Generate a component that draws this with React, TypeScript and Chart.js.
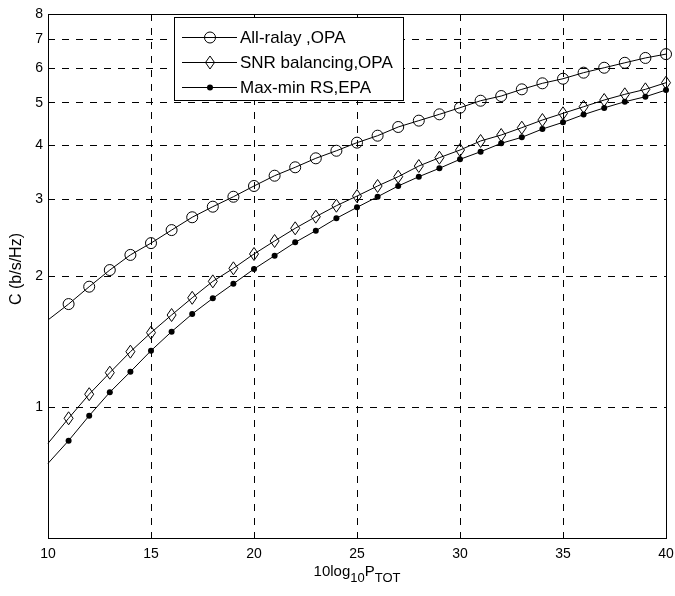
import React, { useEffect, useRef } from "react";
import { Chart, registerables } from "chart.js";

Chart.register(...registerables);

const xValues = [10, 11, 12, 13, 14, 15, 16, 17, 18, 19, 20, 21, 22, 23, 24, 25, 26, 27, 28, 29, 30, 31, 32, 33, 34, 35, 36, 37, 38, 39, 40];
const allRelay = [1.585, 1.724, 1.89, 2.064, 2.236, 2.38, 2.55, 2.729, 2.886, 3.042, 3.22, 3.4, 3.555, 3.728, 3.88, 4.05, 4.202, 4.4, 4.55, 4.705, 4.872, 5.056, 5.183, 5.37, 5.544, 5.68, 5.865, 6.02, 6.18, 6.34, 6.47];
const snrBalancing = [0.825, 0.942, 1.07, 1.199, 1.34, 1.482, 1.627, 1.782, 1.944, 2.083, 2.247, 2.407, 2.574, 2.737, 2.901, 3.053, 3.22, 3.382, 3.579, 3.74, 3.895, 4.086, 4.217, 4.384, 4.565, 4.73, 4.898, 5.075, 5.23, 5.37, 5.562];
const maxMinRS = [0.742, 0.837, 0.955, 1.081, 1.205, 1.347, 1.49, 1.636, 1.777, 1.92, 2.075, 2.227, 2.39, 2.542, 2.714, 2.876, 3.042, 3.22, 3.382, 3.536, 3.708, 3.86, 4.036, 4.166, 4.353, 4.51, 4.698, 4.868, 5.029, 5.164, 5.35];
const seriesLabels = ["All-ralay ,OPA", "SNR balancing,OPA", "Max-min RS,EPA"];
const xTicks = [10, 15, 20, 25, 30, 35, 40];
const yTicks = [1, 2, 3, 4, 5, 6, 7, 8];
const yTitle = "C (b/s/Hz)";
const xTitleParts = ["10log", "10", "P", "TOT"];

const FONT = "'Liberation Sans', Arial, Helvetica, sans-serif";

function diamondPath(ctx: CanvasRenderingContext2D, x: number, y: number) {
  ctx.beginPath();
  ctx.moveTo(x, y - 6.5);
  ctx.lineTo(x + 4.5, y);
  ctx.lineTo(x, y + 6.5);
  ctx.lineTo(x - 4.5, y);
  ctx.closePath();
  ctx.stroke();
}

export default function App() {
  const ref = useRef<HTMLCanvasElement>(null);
  useEffect(() => {
    const canvas = ref.current!;
    const toPts = (arr: number[]) => xValues.map((x, i) => ({ x, y: arr[i] }));

    const framePlugin = {
      id: "frame",
      afterDatasetsDraw(chart: any) {
        const { ctx, chartArea: a } = chart;
        ctx.save();
        ctx.strokeStyle = "#000";
        ctx.lineWidth = 1;
        ctx.setLineDash([]);
        // diamonds of the second series, at the library's point positions
        const meta = chart.getDatasetMeta(1);
        meta.data.forEach((p: any, i: number) => {
          if (i === 0) return;
          diamondPath(ctx, p.x, p.y);
        });
        ctx.strokeRect(Math.round(a.left) + 0.5, Math.round(a.top) + 0.5, Math.round(a.right - a.left), Math.round(a.bottom - a.top));
        ctx.restore();
      },
      afterDraw(chart: any) {
        const { ctx, chartArea: a } = chart;
        ctx.save();
        // legend
        const lx = 174.5, ly = 17.5, lw = 229, lh = 83;
        ctx.fillStyle = "#fff";
        ctx.fillRect(lx, ly, lw, lh);
        ctx.strokeStyle = "#000";
        ctx.lineWidth = 1;
        ctx.strokeRect(lx, ly, lw, lh);
        const rows = [37, 62, 87];
        ctx.font = `17px ${FONT}`;
        ctx.textBaseline = "middle";
        ctx.textAlign = "left";
        ctx.fillStyle = "#000";
        rows.forEach((ry, i) => {
          ctx.beginPath();
          ctx.moveTo(182, ry + 0.5);
          ctx.lineTo(237, ry + 0.5);
          ctx.stroke();
          const mx = 210;
          if (i === 0) {
            ctx.beginPath();
            ctx.arc(mx, ry + 0.5, 5.5, 0, Math.PI * 2);
            ctx.stroke();
          } else if (i === 1) {
            diamondPath(ctx, mx, ry + 0.5);
          } else {
            ctx.beginPath();
            ctx.arc(mx, ry + 0.5, 3, 0, Math.PI * 2);
            ctx.fill();
          }
          ctx.fillText(seriesLabels[i], 240, ry + 1);
        });
        // y title
        ctx.save();
        ctx.translate(17, 269);
        ctx.rotate(-Math.PI / 2);
        ctx.textAlign = "center";
        ctx.textBaseline = "middle";
        ctx.font = `16px ${FONT}`;
        ctx.fillText(yTitle, 0, 0);
        ctx.restore();
        // x title with subscripts
        const mainFont = `15px ${FONT}`;
        const subFont = `13px ${FONT}`;
        const fonts = [mainFont, subFont, mainFont, subFont];
        const offs = [0, 6, 0, 6];
        let total = 0;
        const widths = xTitleParts.map((t, i) => {
          ctx.font = fonts[i];
          const w = ctx.measureText(t).width;
          total += w;
          return w;
        });
        let x = (a.left + a.right) / 2 - total / 2;
        ctx.textAlign = "left";
        ctx.textBaseline = "alphabetic";
        xTitleParts.forEach((t, i) => {
          ctx.font = fonts[i];
          ctx.fillText(t, x, 576 + offs[i]);
          x += widths[i];
        });
        ctx.restore();
      },
    };

    const chart = new Chart(canvas, {
      type: "line",
      data: {
        datasets: [
          {
            label: seriesLabels[0],
            data: toPts(allRelay),
            borderColor: "#000",
            borderWidth: 1,
            pointStyle: "circle",
            pointRadius: (c: any) => (c.dataIndex === 0 ? 0 : 5.5),
            pointBorderColor: "#000",
            pointBackgroundColor: "rgba(0,0,0,0)",
            pointBorderWidth: 1,
            tension: 0,
            clip: false,
          },
          {
            label: seriesLabels[1],
            data: toPts(snrBalancing),
            borderColor: "#000",
            borderWidth: 1,
            pointRadius: 0,
            tension: 0,
            clip: false,
          },
          {
            label: seriesLabels[2],
            data: toPts(maxMinRS),
            borderColor: "#000",
            borderWidth: 1,
            pointStyle: "circle",
            pointRadius: (c: any) => (c.dataIndex === 0 ? 0 : 3),
            pointBorderColor: "#000",
            pointBackgroundColor: "#000",
            pointBorderWidth: 0,
            tension: 0,
            clip: false,
          },
        ] as any,
      },
      options: {
        responsive: false,
        animation: false,
        events: [],
        layout: { padding: { top: 14, right: 9, left: 0, bottom: 0 } },
        plugins: { legend: { display: false }, tooltip: { enabled: false } },
        scales: {
          x: {
            type: "linear",
            min: 10,
            max: 40,
            afterBuildTicks: (s: any) => {
              s.ticks = xTicks.map((v) => ({ value: v }));
            },
            afterFit: (s: any) => {
              s.height = 58;
              s.paddingLeft = 0;
              s.paddingRight = 0;
            },
            grid: { color: "#000", lineWidth: 1, drawTicks: false },
            border: { display: false, dash: [7, 7] },
            ticks: {
              color: "#000",
              font: { family: FONT, size: 14 },
              padding: 8,
              maxRotation: 0,
              callback: (v: any) => String(v),
            },
          },
          y: {
            type: "logarithmic",
            min: 0.5,
            max: 8,
            afterBuildTicks: (s: any) => {
              s.ticks = yTicks.map((v) => ({ value: v }));
            },
            afterFit: (s: any) => {
              s.width = 48;
              s.paddingTop = 0;
              s.paddingBottom = 0;
            },
            grid: { color: "#000", lineWidth: 1, drawTicks: false },
            border: { display: false, dash: [7, 7] },
            ticks: {
              color: "#000",
              font: { family: FONT, size: 14 },
              padding: 5,
              callback: (v: any) => String(v),
            },
          },
        },
      } as any,
      plugins: [framePlugin],
    });
    return () => chart.destroy();
  }, []);
  return (
    <div style={{ position: "absolute", left: 0, top: 0, width: 675, height: 596, background: "#fff" }}>
      <canvas ref={ref} width={675} height={596} style={{ display: "block" }} />
    </div>
  );
}
